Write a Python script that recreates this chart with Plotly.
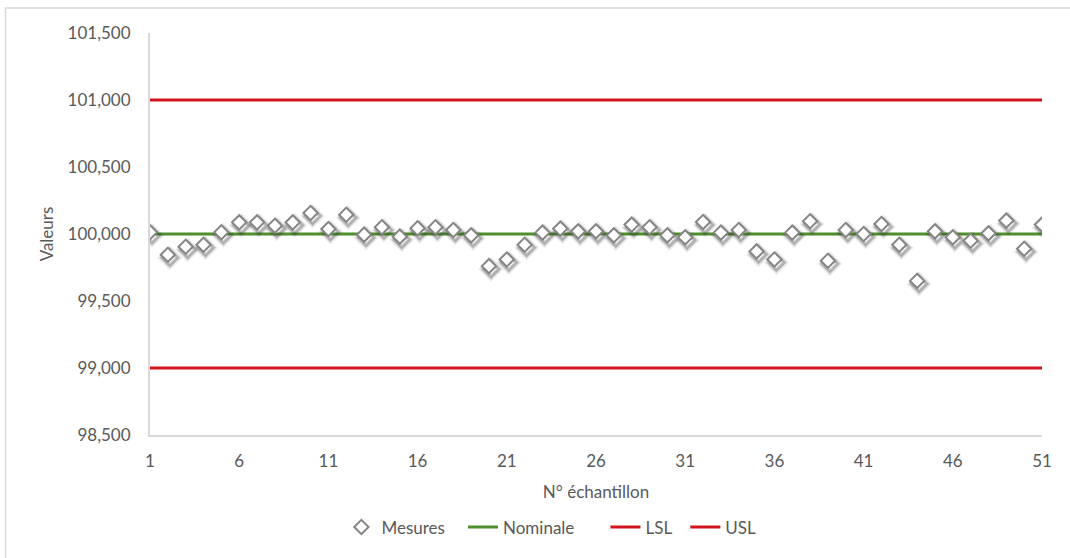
import plotly.graph_objects as go

# Sample numbers and measured values
samples = list(range(1, 52))
mesures = [
    100.013, 99.845, 99.905, 99.92, 100.013, 100.087, 100.087, 100.062, 100.087, 100.157,
    100.037, 100.144, 99.995, 100.05, 99.98, 100.043, 100.05, 100.03, 99.99, 99.76,
    99.81, 99.92, 100.01, 100.04, 100.02, 100.02, 99.99, 100.07, 100.05, 99.99,
    99.975, 100.09, 100.01, 100.03, 99.87, 99.81, 100.01, 100.095, 99.80, 100.03,
    100.0, 100.075, 99.92, 99.65, 100.02, 99.975, 99.95, 100.005, 100.10, 99.89,
    100.07,
]

# Specification values
nominale = 100.0
lsl = 99.0
usl = 101.0

y_ticks = [98.5, 99.0, 99.5, 100.0, 100.5, 101.0, 101.5]
x_ticks = list(range(1, 52, 5))

X_RANGE = [1, 51]
Y_RANGE = [98.5, 101.5]

FONT = "Lato, Calibri, sans-serif"
GREY = "#595959"
NBSP = "\u00a0"

PLOT_W = 1070 - 150 - 28
PLOT_H = 558 - 33 - 121

fig = go.Figure()

# Specification lines on the main axes
fig.add_trace(go.Scatter(
    x=samples, y=[nominale] * len(samples), mode="lines", name="Nominale" + NBSP * 6,
    line=dict(color="#4f8f2c", width=3), legendrank=2,
))
fig.add_trace(go.Scatter(
    x=samples, y=[lsl] * len(samples), mode="lines", name="LSL" + NBSP * 2,
    line=dict(color="#d0141d", width=3), legendrank=3,
))
fig.add_trace(go.Scatter(
    x=samples, y=[usl] * len(samples), mode="lines", name="USL",
    line=dict(color="#d0141d", width=3), legendrank=4,
))

# Marker shadow: same measurements on an overlay axis pair whose ranges are
# nudged so the marks land a few pixels right and below the real markers
dx_px, dy_px = 2.0, 3.0
x_shift = dx_px / PLOT_W * (X_RANGE[1] - X_RANGE[0])
y_shift = dy_px / PLOT_H * (Y_RANGE[1] - Y_RANGE[0])
for size, op in [(16, 0.10), (13, 0.18), (11, 0.25)]:
    fig.add_trace(go.Scatter(
        x=samples, y=mesures, mode="markers", xaxis="x2", yaxis="y2",
        marker=dict(symbol="diamond", size=size, color="rgba(0,0,0,0)",
                    line=dict(color=f"rgba(60,60,60,{op})", width=3)),
        showlegend=False, hoverinfo="skip",
    ))

# Measurements on top
fig.add_trace(go.Scatter(
    x=samples, y=mesures, mode="markers", name="Mesures" + NBSP * 3,
    xaxis="x3", yaxis="y3",
    marker=dict(symbol="diamond", size=11, color="white",
                line=dict(color="#858585", width=2)),
    legendrank=1,
))

hidden = dict(visible=False, showgrid=False, zeroline=False, fixedrange=True)

fig.update_layout(
    width=1070, height=558,
    margin=dict(l=150, r=28, t=33, b=121),
    paper_bgcolor="white", plot_bgcolor="white",
    separators=", ",
    font=dict(family=FONT, size=17, color=GREY),
    showlegend=True,
    legend=dict(orientation="h", x=0.45, xanchor="center", y=-0.23, yanchor="middle",
                font=dict(size=17, color=GREY), traceorder="normal"),
    xaxis=dict(
        range=X_RANGE, tickvals=x_ticks, showgrid=False, zeroline=False,
        showline=True, linecolor="#d9d9d9", linewidth=2, ticks="",
        ticklabelstandoff=10,
        tickfont=dict(size=17, color=GREY),
        title=dict(text="N° échantillon", font=dict(size=17, color=GREY), standoff=16),
    ),
    yaxis=dict(
        range=Y_RANGE, tickvals=y_ticks, tickformat=".3f", showgrid=False,
        zeroline=False, showline=True, linecolor="#d9d9d9", linewidth=2, ticks="",
        ticklabelstandoff=14,
        tickfont=dict(size=17, color=GREY),
        title=dict(text="Valeurs", font=dict(size=17, color=GREY), standoff=10),
    ),
    xaxis2=dict(overlaying="x", range=[X_RANGE[0] - x_shift, X_RANGE[1] - x_shift], **hidden),
    yaxis2=dict(overlaying="y", range=[Y_RANGE[0] + y_shift, Y_RANGE[1] + y_shift], **hidden),
    xaxis3=dict(overlaying="x", range=X_RANGE, **hidden),
    yaxis3=dict(overlaying="y", range=Y_RANGE, **hidden),
    shapes=[dict(type="rect", xref="paper", yref="paper",
                 x0=-0.162, x1=1.2, y0=-0.5, y1=1.062,
                 line=dict(color="#d9d9d9", width=1.5), fillcolor="rgba(0,0,0,0)",
                 layer="below")],
)

fig.write_html("out.html")
